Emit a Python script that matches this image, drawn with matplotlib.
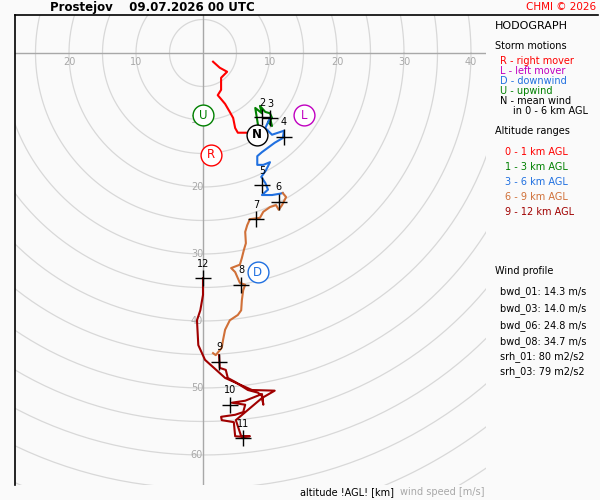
import matplotlib
matplotlib.use("Agg")
import matplotlib.pyplot as plt
import numpy as np
from matplotlib.lines import Line2D

red_u=[1.5,2.5,3.6,2.7,2.7,2.2,2.8,3.3,4.0,4.5,4.8,5.2,6.9,7.8]
red_v=[1.3,2.2,2.8,3.7,5.5,6.3,7.0,7.6,8.8,9.7,11.2,11.9,11.9,11.9]
grn_u=[7.8,7.9,8.2,7.8,8.8,8.5,9.3,10.0,10.3,9.7,10.3,10.0]
grn_v=[13.4,12.2,10.7,8.2,9.0,7.9,8.8,9.0,9.7,10.3,10.9,9.7]
blu_u=[10.0,9.3,10.3,11.5,12.1,11.9,10.7,8.8,8.1,8.1,9.0,10.0,9.4,8.7,9.3,9.7,8.8,10.3,11.5,11.9]
blu_v=[9.7,11.2,12.2,11.8,11.6,12.7,13.4,14.8,15.4,16.7,16.7,16.3,17.5,18.5,19.4,20.4,21.2,21.2,21.0,20.9]
org_u=[11.9,12.4,11.8,11.3,10.9,10.0,9.0,8.5,7.0,6.6,6.3,6.4,6.1,5.8,5.5,4.2,4.8,5.5,6.3,6.0,5.8,5.7,5.2,4.0,3.3,3.0,2.8,1.9,1.5]
org_v=[20.9,21.5,22.7,23.4,22.7,23.0,23.7,24.6,24.8,25.7,26.7,28.4,29.4,30.6,31.6,32.1,32.7,34.3,34.6,35.4,36.9,38.4,39.1,39.9,41.3,42.8,44.0,45.1,44.8]
drd_u=[2.4,2.5,3.4,3.7,4.8,6.7,8.2,8.8,9.0,8.8,6.3,4.3,6.3,6.0,4.8,2.7,2.8,4.6,4.8,6.0,7.0,5.7,4.9,8.8,10.7,7.3,3.3,0.3,-0.7,-0.9,-0.4,0.0,0.0]
drd_v=[45.1,47.0,47.3,48.5,49.1,50.3,50.7,51.2,52.5,50.9,51.9,52.2,52.5,53.6,54.0,54.3,54.8,55.1,57.2,57.3,57.2,57.2,54.8,51.5,50.4,50.3,48.5,45.8,43.6,39.9,38.4,36.1,33.6]

hgt_labels=["2","3","4","5","6","7","8","9","10","11","12"]
hgt_u=[8.8,10.0,12.1,8.8,11.3,7.9,5.7,2.4,4.0,6.0,0.0]
hgt_v=[9.6,9.7,12.5,19.7,22.2,24.8,34.6,46.1,52.5,57.5,33.6]

sm_labels=["R","L","D","U","N"]
sm_u=[1.2,15.1,8.2,0.0,8.1]
sm_v=[15.2,9.3,32.7,9.3,12.2]

wind_labels=["bwd_01: 14.3 m/s","bwd_03: 14.0 m/s","bwd_06: 24.8 m/s","bwd_08: 34.7 m/s","srh_01: 80 m2/s2","srh_03: 79 m2/s2"]

C_R="#ff0000"; C_L="#c000c0"; C_D="#2070e0"; C_U="#008000"; C_N="#000000"
C_O="#d07038"; C_DR="#a00000"
BG="#fafafa"

fig=plt.figure(figsize=(6,5),dpi=100,facecolor=BG)
ax=fig.add_axes([15/600,15/500,471/600,470/500],facecolor=BG)
ax.set_xlim(-28.06,42.24); ax.set_ylim(64.48,-5.67)
ax.set_aspect('auto')
for s in ax.spines.values(): s.set_visible(False)
ax.spines['left'].set_visible(True); ax.spines['left'].set_linewidth(1.2)
ax.set_xticks([]); ax.set_yticks([])
th=np.linspace(0,2*np.pi,400)
for r in range(5,100,5):
    ax.plot(r*np.cos(th),r*np.sin(th),color="#d8d8d8",lw=0.9,zorder=1)
ax.axhline(0,color="#a8a8a8",lw=1,zorder=2)
ax.axvline(0,color="#a8a8a8",lw=1,zorder=2)
for t in [-20,-10,10,20,30,40]:
    ax.text(t,1.3,str(abs(t)),color="#a8a8a8",fontsize=7,ha='center',va='center')
for t in [10,20,30,40,50,60]:
    ax.text(-0.9,t,str(t),color="#a8a8a8",fontsize=7,ha='center',va='center')

for u,v,c in [(red_u,red_v,C_R),(grn_u,grn_v,C_U),(blu_u,blu_v,C_D),(org_u,org_v,C_O),(drd_u,drd_v,C_DR)]:
    ax.plot(u,v,color=c,lw=1.5,zorder=3)
for l,u,v in zip(hgt_labels,hgt_u,hgt_v):
    ax.plot(u,v,marker='+',ms=11,color='black',mew=1,zorder=5)
    ax.text(u,v-1.4,l,fontsize=7,ha='center',va='bottom',zorder=6)
cols={"R":C_R,"L":C_L,"D":C_D,"U":C_U,"N":C_N}
for l,u,v in zip(sm_labels,sm_u,sm_v):
    ax.plot(u,v,marker='o',ms=15,mfc='white',mec=cols[l],mew=1,zorder=7)
    ax.text(u,v,l,color=cols[l],fontsize=8.5,ha='center',va='center',zorder=8,fontweight='bold' if l=="N" else 'normal')

fig.add_artist(Line2D([15/600,598/600],[1-15/500,1-15/500],color='black',lw=1.2))
def ft(x,y,s,**k):
    fig.text(x/600,1-y/500,s,va='center',**k)
ft(50,7,"Prostejov    09.07.2026 00 UTC",fontsize=8.5,fontweight='bold')
ft(596,7,"CHMI © 2026",color=C_R,fontsize=7.5,ha='right')
ft(495,26,"HODOGRAPH",fontsize=8)
ft(495,46,"Storm motions",fontsize=7)
for y,s,c in [(61,"R - right mover",C_R),(71,"L - left mover",C_L),(81,"D - downwind",C_D),(91,"U - upwind",C_U),(101,"N - mean wind",C_N)]:
    ft(500,y,s,color=c,fontsize=7)
ft(513,111,"in 0 - 6 km AGL",fontsize=7)
ft(495,131,"Altitude ranges",fontsize=7)
for y,s,c in [(152,"0 - 1 km AGL",C_R),(167,"1 - 3 km AGL",C_U),(182,"3 - 6 km AGL",C_D),(197,"6 - 9 km AGL",C_O),(212,"9 - 12 km AGL",C_DR)]:
    ft(505,y,s,color=c,fontsize=7)
ft(495,271,"Wind profile",fontsize=7)
for y,s in zip([292,309,326,342,357,372],wind_labels):
    ft(500,y,s,fontsize=7)
ft(300,492,"altitude !AGL! [km]",fontsize=7)
ft(400,492,"wind speed [m/s]",fontsize=7,color="#a8a8a8")
fig.savefig("out.png",dpi=100,facecolor=BG)
